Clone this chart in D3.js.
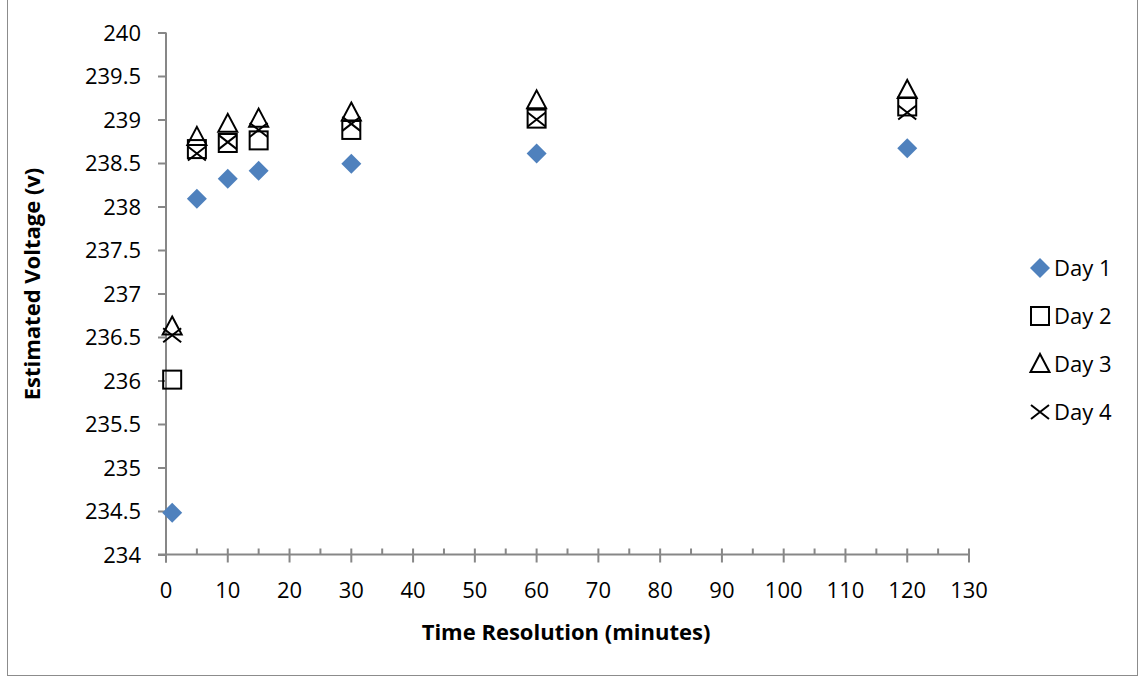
<!DOCTYPE html>
<html>
<head>
<meta charset="utf-8">
<script src="https://cdn.jsdelivr.net/npm/d3@7"></script>
<style>
  html, body { margin: 0; padding: 0; background: #fff; }
  svg text { font-family: "Open Sans", "Liberation Sans", sans-serif; fill: #000; }
</style>
</head>
<body>
<svg id="chart" width="1141" height="677"></svg>
<script>
// Time resolution in minutes (shared x values)
const minutes = [1, 5, 10, 15, 30, 60, 120];

// Estimated voltage per day
const day1 = [234.48, 238.09, 238.32, 238.41, 238.49, 238.61, 238.67];
const day2 = [236.01, 238.66, 238.73, 238.76, 238.88, 239.01, 239.15];
const day3 = [236.62, 238.80, 238.95, 239.01, 239.08, 239.22, 239.34];
const day4 = [236.52, 238.61, 238.74, 238.88, 238.95, 239.00, 239.08];

const seriesNames = ["Day 1", "Day 2", "Day 3", "Day 4"];
const xTicks = d3.range(0, 131, 10);
const yTicks = d3.range(234, 240.01, 0.5);

const svg = d3.select("#chart");

// outer chart border
svg.append("rect")
  .attr("x", 7.5).attr("y", -1).attr("width", 1130).attr("height", 676.5)
  .attr("fill", "none").attr("stroke", "#8c8c8c").attr("stroke-width", 1);

const x = d3.scaleLinear().domain([0, 130]).range([166, 969]);
const y = d3.scaleLinear().domain([234, 240]).range([554.5, 32.5]);

const axisColor = "#878787";

// y axis
const yAxis = svg.append("g").attr("transform", `translate(${x(0)},0)`)
  .call(d3.axisLeft(y).tickValues(yTicks).tickSize(8).tickPadding(17)
    .tickFormat(d => d3.format("")(+d.toFixed(1))));
yAxis.select(".domain").attr("stroke", axisColor).attr("stroke-width", 2)
  .attr("d", `M0,${y(240)}V${y(234) + 8}`);
yAxis.selectAll(".tick line").attr("stroke", axisColor).attr("stroke-width", 2);
yAxis.selectAll(".tick text").style("font-size", "22px").attr("dy", "0.35em");

// x axis: major ticks cross the line, minor ticks inside
const xg = svg.append("g").attr("transform", `translate(0,${y(234)})`);
xg.append("line").attr("x1", x(0) - 8).attr("x2", x(130)).attr("y1", 0).attr("y2", 0)
  .attr("stroke", axisColor).attr("stroke-width", 2);
xg.selectAll(".minor").data(d3.range(5, 130, 10)).join("line")
  .attr("x1", d => x(d)).attr("x2", d => x(d)).attr("y1", -6).attr("y2", 0)
  .attr("stroke", axisColor).attr("stroke-width", 2);
xg.selectAll(".major").data(xTicks).join("line")
  .attr("x1", d => x(d)).attr("x2", d => x(d)).attr("y1", -6).attr("y2", 8)
  .attr("stroke", axisColor).attr("stroke-width", 2);
xg.selectAll(".lbl").data(xTicks).join("text")
  .attr("x", d => x(d)).attr("y", 43).attr("text-anchor", "middle")
  .style("font-size", "22px").text(d => d);

// axis titles
svg.append("text").attr("x", 566).attr("y", 640).attr("text-anchor", "middle")
  .style("font-size", "22px").style("font-weight", "bold").text("Time Resolution (minutes)");
svg.append("text").attr("transform", "translate(40,284) rotate(-90)").attr("text-anchor", "middle")
  .style("font-size", "22px").style("font-weight", "bold").text("Estimated Voltage (v)");

// marker drawers
const markers = [
  (g) => g.append("path").attr("d", "M0,-10L10,0L0,10L-10,0Z").attr("fill", "#4F81BD"),
  (g) => g.append("rect").attr("x", -9).attr("y", -9).attr("width", 18).attr("height", 18)
          .attr("fill", "none").attr("stroke", "#000").attr("stroke-width", 2),
  (g) => g.append("path").attr("d", "M0,-10L9.5,8L-9.5,8Z")
          .attr("fill", "none").attr("stroke", "#000").attr("stroke-width", 2),
  (g) => g.append("path").attr("d", "M-9,-7L9,7M-9,7L9,-7")
          .attr("fill", "none").attr("stroke", "#000").attr("stroke-width", 2)
];

const allSeries = [day1, day2, day3, day4];
allSeries.forEach((vals, i) => {
  const grp = svg.append("g").attr("class", "series-" + i);
  vals.forEach((v, j) => {
    const m = grp.append("g").attr("transform", `translate(${x(minutes[j])},${y(v)})`);
    markers[i](m);
  });
});

// legend
const legend = svg.append("g");
seriesNames.forEach((name, i) => {
  const ly = 268 + i * 48;
  const m = legend.append("g").attr("transform", `translate(1040,${ly})`);
  markers[i](m);
  legend.append("text").attr("x", 1054).attr("y", ly).attr("dy", "0.36em")
    .style("font-size", "22px").text(name);
});
</script>
</body>
</html>
